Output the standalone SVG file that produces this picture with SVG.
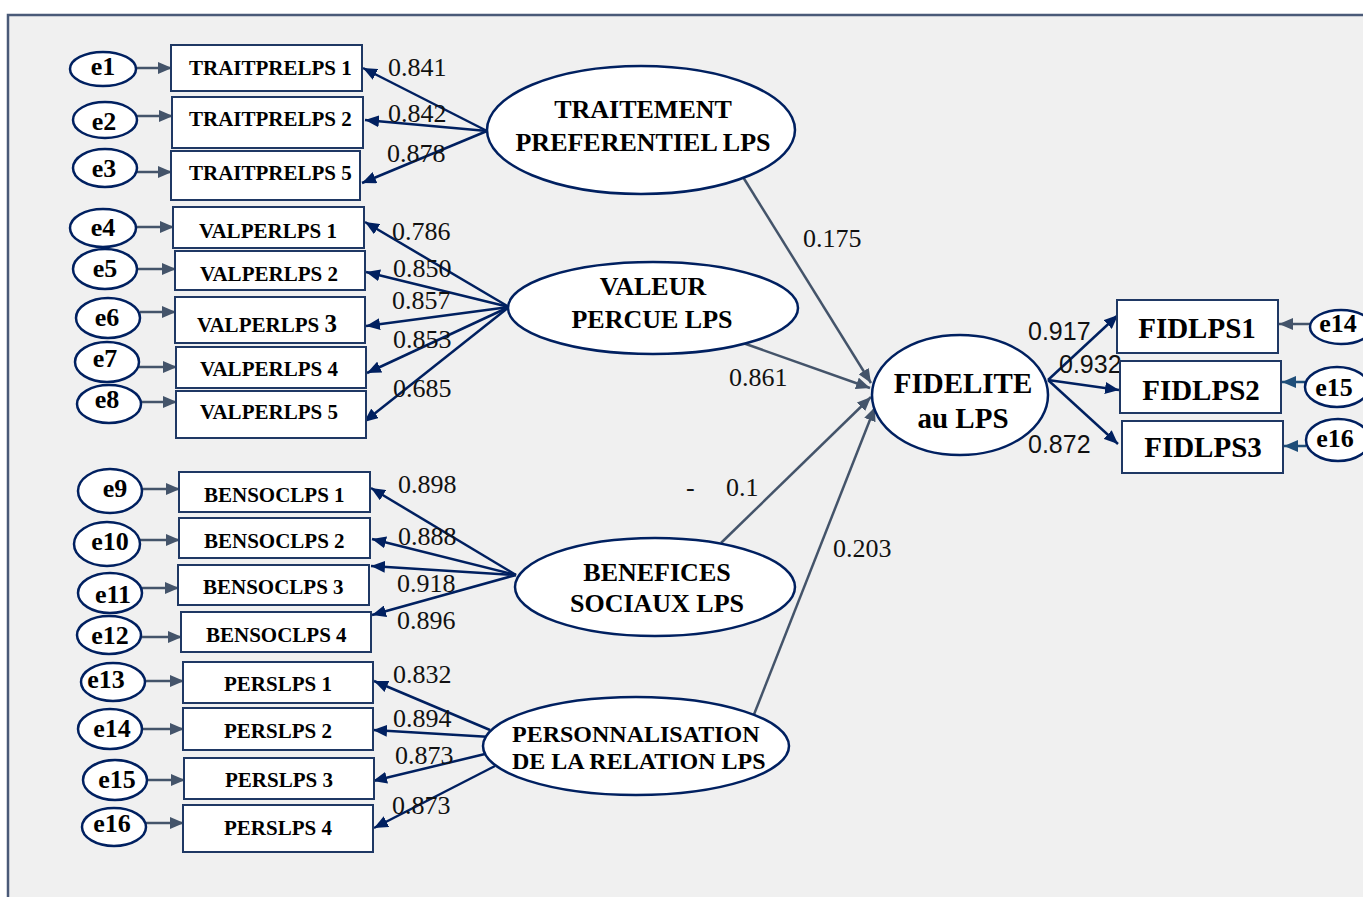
<svg xmlns="http://www.w3.org/2000/svg" width="1363" height="897" viewBox="0 0 1363 897">
<style>
.bg{fill:#f0f0f0;stroke:#4a5a78;stroke-width:2.5}
.el{fill:#fff;stroke:#002060;stroke-width:2.5}
.bx{fill:#fff;stroke:#1f3864;stroke-width:2}
.et{font-family:"Liberation Serif",serif;font-weight:bold;font-size:26px;text-anchor:middle;fill:#000}
.bt{font-family:"Liberation Serif",serif;font-weight:bold;font-size:21px;fill:#000}
.lt{font-family:"Liberation Serif",serif;font-weight:bold;font-size:26px;text-anchor:middle;fill:#000}
.pt{font-family:"Liberation Serif",serif;font-weight:bold;font-size:24px;fill:#000}
.ft{font-family:"Liberation Serif",serif;font-weight:bold;font-size:29px;text-anchor:middle;fill:#000}
.nt{font-family:"Liberation Serif",serif;font-size:26px;fill:#111}
.st{font-family:"Liberation Sans",sans-serif;font-size:25px;fill:#111}
.ga{stroke:#44546a;stroke-width:2.5;fill:none;marker-end:url(#mg)}
.na{stroke:#002060;stroke-width:2.5;fill:none;marker-end:url(#mn)}
.ba{stroke:#1f4e79;stroke-width:2.5;fill:none;marker-end:url(#mb)}
</style>
<defs>
<marker id="mg" markerUnits="userSpaceOnUse" markerWidth="14" markerHeight="12" refX="14" refY="6" orient="auto"><path d="M0,0 L14,6 L0,12 z" fill="#44546a"/></marker>
<marker id="mn" markerUnits="userSpaceOnUse" markerWidth="14" markerHeight="12" refX="14" refY="6" orient="auto"><path d="M0,0 L14,6 L0,12 z" fill="#002060"/></marker>
<marker id="mb" markerUnits="userSpaceOnUse" markerWidth="14" markerHeight="12" refX="14" refY="6" orient="auto"><path d="M0,0 L14,6 L0,12 z" fill="#1f4e79"/></marker>
</defs>
<rect x="0" y="0" width="1363" height="897" fill="#fff"/>
<rect class="bg" x="8" y="15" width="1370" height="900"/>

<g id="connectors">
<line class="ga" x1="136" y1="68" x2="172" y2="68"/>
<line class="ga" x1="137" y1="116" x2="173" y2="116"/>
<line class="ga" x1="137" y1="172" x2="172" y2="172"/>
<line class="ga" x1="136" y1="227" x2="174" y2="227"/>
<line class="ga" x1="137" y1="269" x2="176" y2="269"/>
<line class="ga" x1="140" y1="312" x2="176" y2="312"/>
<line class="ga" x1="138" y1="367" x2="177" y2="367"/>
<line class="ga" x1="141" y1="402" x2="177" y2="402"/>
<line class="ga" x1="142" y1="489" x2="180" y2="489"/>
<line class="ga" x1="140" y1="540" x2="180" y2="540"/>
<line class="ga" x1="142" y1="588" x2="179" y2="588"/>
<line class="ga" x1="141" y1="637" x2="182" y2="637"/>
<line class="ga" x1="145" y1="681" x2="184" y2="681"/>
<line class="ga" x1="142" y1="729" x2="184" y2="729"/>
<line class="ga" x1="147" y1="780" x2="185" y2="780"/>
<line class="ga" x1="146" y1="823" x2="184" y2="823"/>
<line class="ga" x1="1310" y1="324" x2="1279" y2="324"/>
<line class="ba" x1="1305" y1="382" x2="1282" y2="382"/>
<line class="ba" x1="1306" y1="446" x2="1284" y2="446"/>
<line class="na" x1="487" y1="131" x2="363" y2="68"/>
<line class="na" x1="487" y1="131" x2="365" y2="120"/>
<line class="na" x1="487" y1="131" x2="362" y2="183"/>
<line class="na" x1="509" y1="307" x2="365" y2="222"/>
<line class="na" x1="509" y1="307" x2="366" y2="272"/>
<line class="na" x1="509" y1="307" x2="366" y2="326"/>
<line class="na" x1="509" y1="307" x2="367" y2="373"/>
<line class="na" x1="509" y1="307" x2="364" y2="422"/>
<line class="na" x1="516" y1="575" x2="371" y2="488"/>
<line class="na" x1="516" y1="575" x2="372" y2="539"/>
<line class="na" x1="516" y1="575" x2="371" y2="566"/>
<line class="na" x1="516" y1="575" x2="372" y2="615"/>
<line class="na" x1="490" y1="730" x2="374" y2="681"/>
<line class="na" x1="491" y1="737" x2="373" y2="730"/>
<line class="na" x1="485" y1="754" x2="373" y2="781"/>
<line class="na" x1="495" y1="766" x2="374" y2="828"/>
<line class="na" x1="1048" y1="380" x2="1118" y2="315"/>
<line class="na" x1="1048" y1="380" x2="1119" y2="390"/>
<line class="na" x1="1048" y1="380" x2="1118" y2="444"/>
<line class="ga" x1="743" y1="177" x2="871" y2="383"/>
<line class="ga" x1="743" y1="343" x2="870" y2="388"/>
<line class="ga" x1="721" y1="543" x2="871" y2="397"/>
<line class="ga" x1="753" y1="717" x2="875" y2="407"/>
</g>

<g id="labels">
<text class="nt" x="388" y="76">0.841</text>
<text class="nt" x="388" y="122">0.842</text>
<text class="nt" x="387" y="162">0.878</text>
<text class="nt" x="392" y="240">0.786</text>
<text class="nt" x="393" y="277">0.850</text>
<text class="nt" x="392" y="309">0.857</text>
<text class="nt" x="393" y="348">0.853</text>
<text class="nt" x="393" y="397">0.685</text>
<text class="nt" x="398" y="493">0.898</text>
<text class="nt" x="398" y="545">0.888</text>
<text class="nt" x="397" y="592">0.918</text>
<text class="nt" x="397" y="629">0.896</text>
<text class="nt" x="393" y="683">0.832</text>
<text class="nt" x="393" y="727">0.894</text>
<text class="nt" x="395" y="764">0.873</text>
<text class="nt" x="392" y="814">0.873</text>
<text class="nt" x="803" y="247">0.175</text>
<text class="nt" x="729" y="386">0.861</text>
<text class="nt" x="686" y="496">-</text>
<text class="nt" x="726" y="496">0.1</text>
<text class="nt" x="833" y="557">0.203</text>
<text class="st" x="1028" y="340">0.917</text>
<text class="st" x="1059" y="373">0.932</text>
<text class="st" x="1028" y="453">0.872</text>
</g>

<g id="e1"><ellipse class="el" cx="103" cy="69" rx="33" ry="17"/><text class="et" x="103" y="75">e1</text></g>
<g id="e2"><ellipse class="el" cx="105" cy="120" rx="32" ry="18"/><text class="et" x="104" y="130">e2</text></g>
<g id="e3"><ellipse class="el" cx="105" cy="168" rx="32" ry="19"/><text class="et" x="104" y="177">e3</text></g>
<g id="e4"><ellipse class="el" cx="103" cy="228" rx="33" ry="19"/><text class="et" x="103" y="236">e4</text></g>
<g id="e5"><ellipse class="el" cx="105" cy="269" rx="32" ry="20"/><text class="et" x="105" y="277">e5</text></g>
<g id="e6"><ellipse class="el" cx="108" cy="318" rx="32" ry="20"/><text class="et" x="107" y="326">e6</text></g>
<g id="e7"><ellipse class="el" cx="107" cy="362" rx="32" ry="20"/><text class="et" x="105" y="367">e7</text></g>
<g id="e8"><ellipse class="el" cx="109" cy="404" rx="32" ry="19"/><text class="et" x="107" y="408">e8</text></g>
<g id="e9"><ellipse class="el" cx="110" cy="491" rx="32" ry="22"/><text class="et" x="115" y="497">e9</text></g>
<g id="e10"><ellipse class="el" cx="107" cy="544" rx="33" ry="22"/><text class="et" x="110" y="550">e10</text></g>
<g id="e11"><ellipse class="el" cx="110" cy="593" rx="32" ry="20"/><text class="et" x="113" y="603">e11</text></g>
<g id="e12"><ellipse class="el" cx="109" cy="635" rx="32" ry="19"/><text class="et" x="110" y="644">e12</text></g>
<g id="e13"><ellipse class="el" cx="113" cy="682" rx="32" ry="19"/><text class="et" x="106" y="688">e13</text></g>
<g id="e14"><ellipse class="el" cx="110" cy="729" rx="32" ry="20"/><text class="et" x="112" y="737">e14</text></g>
<g id="e15"><ellipse class="el" cx="115" cy="780" rx="32" ry="20"/><text class="et" x="117" y="788">e15</text></g>
<g id="e16"><ellipse class="el" cx="114" cy="827" rx="32" ry="19"/><text class="et" x="112" y="832">e16</text></g>

<g id="TRAITPRELPS1"><rect class="bx" x="171" y="45" width="191" height="46"/><text class="bt" x="189" y="75">TRAITPRELPS 1</text></g>
<g id="TRAITPRELPS2"><rect class="bx" x="172" y="97" width="191" height="51"/><text class="bt" x="189" y="126">TRAITPRELPS 2</text></g>
<g id="TRAITPRELPS5"><rect class="bx" x="171" y="151" width="189" height="49"/><text class="bt" x="189" y="180">TRAITPRELPS 5</text></g>
<g id="VALPERLPS1"><rect class="bx" x="173" y="207" width="191" height="41"/><text class="bt" x="199" y="238">VALPERLPS 1</text></g>
<g id="VALPERLPS2"><rect class="bx" x="175" y="251" width="190" height="39"/><text class="bt" x="200" y="281">VALPERLPS 2</text></g>
<g id="VALPERLPS3"><rect class="bx" x="175" y="297" width="190" height="46"/><text class="bt" x="197" y="332">VALPERLPS <tspan font-size="25">3</tspan></text></g>
<g id="VALPERLPS4"><rect class="bx" x="176" y="347" width="190" height="41"/><text class="bt" x="200" y="376">VALPERLPS 4</text></g>
<g id="VALPERLPS5"><rect class="bx" x="176" y="391" width="190" height="47"/><text class="bt" x="200" y="419">VALPERLPS 5</text></g>
<g id="BENSOCLPS1"><rect class="bx" x="179" y="472" width="191" height="40"/><text class="bt" x="204" y="502">BENSOCLPS 1</text></g>
<g id="BENSOCLPS2"><rect class="bx" x="179" y="518" width="191" height="40"/><text class="bt" x="204" y="548">BENSOCLPS 2</text></g>
<g id="BENSOCLPS3"><rect class="bx" x="178" y="565" width="191" height="40"/><text class="bt" x="203" y="594">BENSOCLPS 3</text></g>
<g id="BENSOCLPS4"><rect class="bx" x="181" y="612" width="190" height="40"/><text class="bt" x="206" y="642">BENSOCLPS 4</text></g>
<g id="PERSLPS1"><rect class="bx" x="183" y="662" width="190" height="41"/><text class="bt" x="224" y="691">PERSLPS 1</text></g>
<g id="PERSLPS2"><rect class="bx" x="183" y="708" width="190" height="42"/><text class="bt" x="224" y="738">PERSLPS 2</text></g>
<g id="PERSLPS3"><rect class="bx" x="184" y="758" width="190" height="41"/><text class="bt" x="225" y="787">PERSLPS 3</text></g>
<g id="PERSLPS4"><rect class="bx" x="183" y="805" width="190" height="47"/><text class="bt" x="224" y="835">PERSLPS 4</text></g>

<g id="TRAITEMENT"><ellipse class="el" cx="641" cy="130" rx="154" ry="64"/><text class="lt" x="643" y="118">TRAITEMENT</text><text class="lt" x="643" y="151">PREFERENTIEL LPS</text></g>
<g id="VALEUR"><ellipse class="el" cx="653" cy="308" rx="145" ry="46"/><text class="lt" x="653" y="295">VALEUR</text><text class="lt" x="652" y="328">PERCUE LPS</text></g>
<g id="BENEFICES"><ellipse class="el" cx="655" cy="587" rx="140" ry="49"/><text class="lt" x="657" y="581">BENEFICES</text><text class="lt" x="657" y="612">SOCIAUX LPS</text></g>
<g id="PERSONNALISATION"><ellipse class="el" cx="636" cy="746" rx="153" ry="49"/><text class="pt" x="512" y="742">PERSONNALISATION</text><text class="pt" x="512" y="769">DE LA RELATION LPS</text></g>
<g id="FIDELITE"><ellipse class="el" cx="960" cy="395" rx="88" ry="60"/><text class="ft" x="963" y="393">FIDELITE</text><text class="ft" x="963" y="428">au LPS</text></g>

<g id="FIDLPS1"><rect class="bx" x="1117" y="300" width="161" height="53"/><text class="ft" x="1197" y="338">FIDLPS1</text></g>
<g id="FIDLPS2"><rect class="bx" x="1120" y="361" width="161" height="52"/><text class="ft" x="1201" y="400">FIDLPS2</text></g>
<g id="FIDLPS3"><rect class="bx" x="1122" y="421" width="161" height="52"/><text class="ft" x="1203" y="457">FIDLPS3</text></g>

<g id="e14r"><ellipse class="el" cx="1341" cy="327" rx="31" ry="17"/><text class="et" x="1338" y="332">e14</text></g>
<g id="e15r"><ellipse class="el" cx="1337" cy="387" rx="32" ry="20"/><text class="et" x="1334" y="396">e15</text></g>
<g id="e16r"><ellipse class="el" cx="1338" cy="440" rx="32" ry="21"/><text class="et" x="1335" y="447">e16</text></g>
</svg>
